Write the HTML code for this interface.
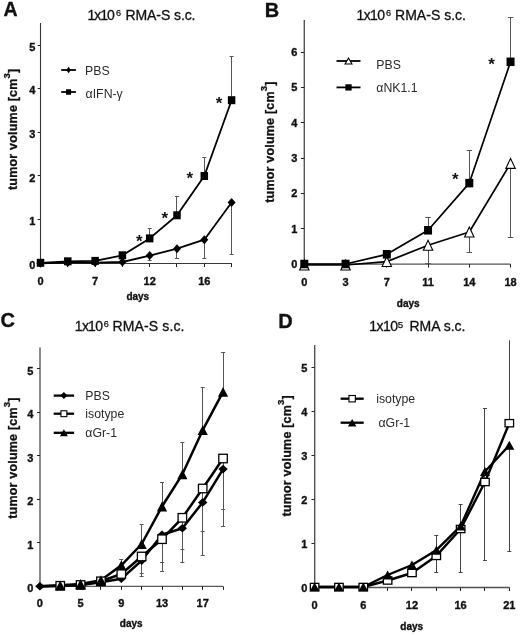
<!DOCTYPE html>
<html><head><meta charset="utf-8"><style>
html,body{margin:0;padding:0;background:#fff;}
svg{display:block;font-family:"Liberation Sans", sans-serif;will-change:transform;}
</style></head><body>
<svg width="520" height="635" viewBox="0 0 520 635">
<rect width="520" height="635" fill="#fff"/>
<text x="3.40" y="15.70" font-size="19.5" font-weight="bold" text-anchor="start" fill="#111"  stroke="#111" stroke-width="0.35">A</text>
<text x="87.55" y="19.70" font-size="14" fill="#111" stroke="#111" stroke-width="0.3" textLength="27.20" lengthAdjust="spacing">1x10</text>
<text x="116.10" y="15.90" font-size="9.2" fill="#111" stroke="#111" stroke-width="0.25">6</text>
<text x="125.40" y="19.70" font-size="14" fill="#111" stroke="#111" stroke-width="0.3" textLength="70.10" lengthAdjust="spacing">RMA-S s.c.</text>
<text transform="translate(17.00,129.30) rotate(-90)" x="0" y="0" font-size="12.5" letter-spacing="0.2" font-weight="bold" text-anchor="middle" fill="#111" stroke="#111" stroke-width="0.3">tumor volume [cm<tspan font-size="9.5" dy="-6.6">3</tspan><tspan dy="6.6">]</tspan></text>
<line x1="40.50" y1="23.00" x2="40.50" y2="264.00" stroke="#383838" stroke-width="1.1"/>
<line x1="40.50" y1="263.50" x2="232.00" y2="263.50" stroke="#383838" stroke-width="1.1"/>
<line x1="37.70" y1="263.50" x2="40.50" y2="263.50" stroke="#222" stroke-width="1"/>
<text x="35.40" y="268.90" font-size="11" font-weight="bold" text-anchor="end" fill="#111"  stroke="#111" stroke-width="0.35">0</text>
<line x1="37.70" y1="219.50" x2="40.50" y2="219.50" stroke="#222" stroke-width="1"/>
<text x="35.40" y="225.24" font-size="11" font-weight="bold" text-anchor="end" fill="#111"  stroke="#111" stroke-width="0.35">1</text>
<line x1="37.70" y1="175.50" x2="40.50" y2="175.50" stroke="#222" stroke-width="1"/>
<text x="35.40" y="181.58" font-size="11" font-weight="bold" text-anchor="end" fill="#111"  stroke="#111" stroke-width="0.35">2</text>
<line x1="37.70" y1="132.50" x2="40.50" y2="132.50" stroke="#222" stroke-width="1"/>
<text x="35.40" y="137.92" font-size="11" font-weight="bold" text-anchor="end" fill="#111"  stroke="#111" stroke-width="0.35">3</text>
<line x1="37.70" y1="88.50" x2="40.50" y2="88.50" stroke="#222" stroke-width="1"/>
<text x="35.40" y="94.26" font-size="11" font-weight="bold" text-anchor="end" fill="#111"  stroke="#111" stroke-width="0.35">4</text>
<line x1="37.70" y1="45.50" x2="40.50" y2="45.50" stroke="#222" stroke-width="1"/>
<text x="35.40" y="50.60" font-size="11" font-weight="bold" text-anchor="end" fill="#111"  stroke="#111" stroke-width="0.35">5</text>
<line x1="40.50" y1="263.50" x2="40.50" y2="267.00" stroke="#222" stroke-width="1"/>
<line x1="67.50" y1="263.50" x2="67.50" y2="267.00" stroke="#222" stroke-width="1"/>
<line x1="95.50" y1="263.50" x2="95.50" y2="267.00" stroke="#222" stroke-width="1"/>
<line x1="122.50" y1="263.50" x2="122.50" y2="267.00" stroke="#222" stroke-width="1"/>
<line x1="149.50" y1="263.50" x2="149.50" y2="267.00" stroke="#222" stroke-width="1"/>
<line x1="176.50" y1="263.50" x2="176.50" y2="267.00" stroke="#222" stroke-width="1"/>
<line x1="204.50" y1="263.50" x2="204.50" y2="267.00" stroke="#222" stroke-width="1"/>
<line x1="231.50" y1="263.50" x2="231.50" y2="267.00" stroke="#222" stroke-width="1"/>
<text x="40.50" y="285.00" font-size="11" font-weight="bold" text-anchor="middle" fill="#111"  stroke="#111" stroke-width="0.35">0</text>
<text x="95.10" y="285.00" font-size="11" font-weight="bold" text-anchor="middle" fill="#111"  stroke="#111" stroke-width="0.35">7</text>
<text x="149.70" y="285.00" font-size="11" font-weight="bold" text-anchor="middle" fill="#111"  stroke="#111" stroke-width="0.35">12</text>
<text x="204.30" y="285.00" font-size="11" font-weight="bold" text-anchor="middle" fill="#111"  stroke="#111" stroke-width="0.35">16</text>
<text x="137.80" y="300.00" font-size="10" font-weight="bold" text-anchor="middle" fill="#111"  stroke="#111" stroke-width="0.35">days</text>
<line x1="149.50" y1="238.40" x2="149.50" y2="228.50" stroke="#555" stroke-width="1"/>
<line x1="147.70" y1="228.50" x2="151.70" y2="228.50" stroke="#555" stroke-width="1"/>
<line x1="176.50" y1="215.30" x2="176.50" y2="196.10" stroke="#555" stroke-width="1"/>
<line x1="175.00" y1="196.50" x2="179.00" y2="196.50" stroke="#555" stroke-width="1"/>
<line x1="204.50" y1="176.00" x2="204.50" y2="157.30" stroke="#555" stroke-width="1"/>
<line x1="202.30" y1="157.50" x2="206.30" y2="157.50" stroke="#555" stroke-width="1"/>
<line x1="231.50" y1="100.20" x2="231.50" y2="56.30" stroke="#555" stroke-width="1"/>
<line x1="229.60" y1="56.50" x2="233.60" y2="56.50" stroke="#555" stroke-width="1"/>
<line x1="149.50" y1="255.60" x2="149.50" y2="260.00" stroke="#555" stroke-width="1"/>
<line x1="147.70" y1="260.50" x2="151.70" y2="260.50" stroke="#555" stroke-width="1"/>
<line x1="176.50" y1="248.70" x2="176.50" y2="259.00" stroke="#555" stroke-width="1"/>
<line x1="175.00" y1="258.50" x2="179.00" y2="258.50" stroke="#555" stroke-width="1"/>
<line x1="204.50" y1="239.70" x2="204.50" y2="259.00" stroke="#555" stroke-width="1"/>
<line x1="202.30" y1="258.50" x2="206.30" y2="258.50" stroke="#555" stroke-width="1"/>
<line x1="231.50" y1="202.50" x2="231.50" y2="254.40" stroke="#555" stroke-width="1"/>
<line x1="229.60" y1="254.50" x2="233.60" y2="254.50" stroke="#555" stroke-width="1"/>
<polyline points="40.50,263.30 67.80,262.60 95.10,262.60 122.40,262.00 149.70,255.60 177.00,248.70 204.30,239.70 231.60,202.50" fill="none" stroke="#000" stroke-width="1.8" stroke-linejoin="round"/>
<polyline points="40.50,262.80 67.80,261.30 95.10,260.90 122.40,255.30 149.70,238.40 177.00,215.30 204.30,176.00 231.60,100.20" fill="none" stroke="#000" stroke-width="1.8" stroke-linejoin="round"/>
<polygon points="40.50,258.80 44.50,263.30 40.50,267.80 36.50,263.30" fill="#000"/>
<polygon points="67.80,258.10 71.80,262.60 67.80,267.10 63.80,262.60" fill="#000"/>
<polygon points="95.10,258.10 99.10,262.60 95.10,267.10 91.10,262.60" fill="#000"/>
<polygon points="122.40,257.50 126.40,262.00 122.40,266.50 118.40,262.00" fill="#000"/>
<polygon points="149.70,251.10 153.70,255.60 149.70,260.10 145.70,255.60" fill="#000"/>
<polygon points="177.00,244.20 181.00,248.70 177.00,253.20 173.00,248.70" fill="#000"/>
<polygon points="204.30,235.20 208.30,239.70 204.30,244.20 200.30,239.70" fill="#000"/>
<polygon points="231.60,198.00 235.60,202.50 231.60,207.00 227.60,202.50" fill="#000"/>
<rect x="36.75" y="258.80" width="7.50" height="8.00" fill="#000"/>
<rect x="64.05" y="257.30" width="7.50" height="8.00" fill="#000"/>
<rect x="91.35" y="256.90" width="7.50" height="8.00" fill="#000"/>
<rect x="118.65" y="251.30" width="7.50" height="8.00" fill="#000"/>
<rect x="145.95" y="234.40" width="7.50" height="8.00" fill="#000"/>
<rect x="173.25" y="211.30" width="7.50" height="8.00" fill="#000"/>
<rect x="200.55" y="172.00" width="7.50" height="8.00" fill="#000"/>
<rect x="227.85" y="96.20" width="7.50" height="8.00" fill="#000"/>
<text x="139.20" y="247.00" font-size="17" font-weight="bold" text-anchor="middle" fill="#111" stroke="none">*</text>
<text x="164.80" y="224.20" font-size="17" font-weight="bold" text-anchor="middle" fill="#111" stroke="none">*</text>
<text x="189.90" y="183.70" font-size="17" font-weight="bold" text-anchor="middle" fill="#111" stroke="none">*</text>
<text x="219.00" y="109.10" font-size="17" font-weight="bold" text-anchor="middle" fill="#111" stroke="none">*</text>
<line x1="61.20" y1="70.00" x2="75.90" y2="70.00" stroke="#000" stroke-width="1.8"/>
<polygon points="68.55,66.80 70.85,70.00 68.55,73.20 66.25,70.00" fill="#000"/>
<text x="85.00" y="74.60" font-size="12.3" font-weight="normal" text-anchor="start" fill="#2a2a2a" >PBS</text>
<line x1="61.20" y1="92.00" x2="75.90" y2="92.00" stroke="#000" stroke-width="1.8"/>
<rect x="66.05" y="89.25" width="5.00" height="5.50" fill="#000"/>
<text x="85.60" y="97.60" font-size="12.3" font-weight="normal" text-anchor="start" fill="#2a2a2a" >αIFN-γ</text>
<text x="264.80" y="17.00" font-size="20" font-weight="bold" text-anchor="start" fill="#111"  stroke="#111" stroke-width="0.35">B</text>
<text x="356.55" y="19.90" font-size="14" fill="#111" stroke="#111" stroke-width="0.3" textLength="28.40" lengthAdjust="spacing">1x10</text>
<text x="386.10" y="16.10" font-size="9.2" fill="#111" stroke="#111" stroke-width="0.25">6</text>
<text x="395.00" y="19.90" font-size="14" fill="#111" stroke="#111" stroke-width="0.3" textLength="71.00" lengthAdjust="spacing">RMA-S s.c.</text>
<text transform="translate(273.90,142.10) rotate(-90)" x="0" y="0" font-size="12.5" letter-spacing="0.2" font-weight="bold" text-anchor="middle" fill="#111" stroke="#111" stroke-width="0.3">tumor volume [cm<tspan font-size="9.5" dy="-6.6">3</tspan><tspan dy="6.6">]</tspan></text>
<line x1="304.30" y1="20.00" x2="304.30" y2="264.60" stroke="#555" stroke-width="1.4"/>
<line x1="304.30" y1="264.10" x2="510.50" y2="264.10" stroke="#555" stroke-width="1.4"/>
<line x1="300.90" y1="264.50" x2="304.30" y2="264.50" stroke="#222" stroke-width="1"/>
<text x="297.40" y="268.10" font-size="11" font-weight="bold" text-anchor="end" fill="#111"  stroke="#111" stroke-width="0.35">0</text>
<line x1="300.90" y1="228.50" x2="304.30" y2="228.50" stroke="#222" stroke-width="1"/>
<text x="297.40" y="232.75" font-size="11" font-weight="bold" text-anchor="end" fill="#111"  stroke="#111" stroke-width="0.35">1</text>
<line x1="300.90" y1="193.50" x2="304.30" y2="193.50" stroke="#222" stroke-width="1"/>
<text x="297.40" y="197.40" font-size="11" font-weight="bold" text-anchor="end" fill="#111"  stroke="#111" stroke-width="0.35">2</text>
<line x1="300.90" y1="158.50" x2="304.30" y2="158.50" stroke="#222" stroke-width="1"/>
<text x="297.40" y="162.05" font-size="11" font-weight="bold" text-anchor="end" fill="#111"  stroke="#111" stroke-width="0.35">3</text>
<line x1="300.90" y1="122.50" x2="304.30" y2="122.50" stroke="#222" stroke-width="1"/>
<text x="297.40" y="126.70" font-size="11" font-weight="bold" text-anchor="end" fill="#111"  stroke="#111" stroke-width="0.35">4</text>
<line x1="300.90" y1="87.50" x2="304.30" y2="87.50" stroke="#222" stroke-width="1"/>
<text x="297.40" y="91.35" font-size="11" font-weight="bold" text-anchor="end" fill="#111"  stroke="#111" stroke-width="0.35">5</text>
<line x1="300.90" y1="52.50" x2="304.30" y2="52.50" stroke="#222" stroke-width="1"/>
<text x="297.40" y="56.00" font-size="11" font-weight="bold" text-anchor="end" fill="#111"  stroke="#111" stroke-width="0.35">6</text>
<line x1="304.50" y1="264.10" x2="304.50" y2="267.60" stroke="#222" stroke-width="1"/>
<line x1="345.50" y1="264.10" x2="345.50" y2="267.60" stroke="#222" stroke-width="1"/>
<line x1="386.50" y1="264.10" x2="386.50" y2="267.60" stroke="#222" stroke-width="1"/>
<line x1="428.50" y1="264.10" x2="428.50" y2="267.60" stroke="#222" stroke-width="1"/>
<line x1="469.50" y1="264.10" x2="469.50" y2="267.60" stroke="#222" stroke-width="1"/>
<line x1="510.50" y1="264.10" x2="510.50" y2="267.60" stroke="#222" stroke-width="1"/>
<text x="304.30" y="286.00" font-size="11" font-weight="bold" text-anchor="middle" fill="#111"  stroke="#111" stroke-width="0.35">0</text>
<text x="345.55" y="286.00" font-size="11" font-weight="bold" text-anchor="middle" fill="#111"  stroke="#111" stroke-width="0.35">3</text>
<text x="386.80" y="286.00" font-size="11" font-weight="bold" text-anchor="middle" fill="#111"  stroke="#111" stroke-width="0.35">7</text>
<text x="428.05" y="286.00" font-size="11" font-weight="bold" text-anchor="middle" fill="#111"  stroke="#111" stroke-width="0.35">11</text>
<text x="469.30" y="286.00" font-size="11" font-weight="bold" text-anchor="middle" fill="#111"  stroke="#111" stroke-width="0.35">14</text>
<text x="510.55" y="286.00" font-size="11" font-weight="bold" text-anchor="middle" fill="#111"  stroke="#111" stroke-width="0.35">18</text>
<text x="408.20" y="306.80" font-size="10" font-weight="bold" text-anchor="middle" fill="#111"  stroke="#111" stroke-width="0.35">days</text>
<line x1="386.50" y1="254.30" x2="386.50" y2="250.00" stroke="#555" stroke-width="1"/>
<line x1="384.05" y1="250.50" x2="389.55" y2="250.50" stroke="#555" stroke-width="1"/>
<line x1="428.50" y1="230.30" x2="428.50" y2="217.70" stroke="#555" stroke-width="1"/>
<line x1="425.30" y1="217.50" x2="430.80" y2="217.50" stroke="#555" stroke-width="1"/>
<line x1="469.50" y1="183.10" x2="469.50" y2="150.80" stroke="#555" stroke-width="1"/>
<line x1="466.55" y1="150.50" x2="472.05" y2="150.50" stroke="#555" stroke-width="1"/>
<line x1="510.50" y1="61.80" x2="510.50" y2="17.30" stroke="#555" stroke-width="1"/>
<line x1="507.80" y1="17.50" x2="513.30" y2="17.50" stroke="#555" stroke-width="1"/>
<line x1="428.50" y1="245.30" x2="428.50" y2="263.80" stroke="#555" stroke-width="1"/>
<line x1="425.30" y1="263.50" x2="430.80" y2="263.50" stroke="#555" stroke-width="1"/>
<line x1="469.50" y1="232.00" x2="469.50" y2="252.50" stroke="#555" stroke-width="1"/>
<line x1="466.55" y1="252.50" x2="472.05" y2="252.50" stroke="#555" stroke-width="1"/>
<line x1="510.50" y1="163.40" x2="510.50" y2="237.20" stroke="#555" stroke-width="1"/>
<line x1="507.80" y1="237.50" x2="513.30" y2="237.50" stroke="#555" stroke-width="1"/>
<polyline points="304.30,265.00 345.55,265.00 386.80,261.60 428.05,245.30 469.30,232.00 510.55,163.40" fill="none" stroke="#000" stroke-width="1.7" stroke-linejoin="round"/>
<polyline points="304.30,264.00 345.55,264.00 386.80,254.30 428.05,230.30 469.30,183.10 510.55,61.80" fill="none" stroke="#000" stroke-width="1.7" stroke-linejoin="round"/>
<polygon points="304.30,260.05 309.00,269.95 299.60,269.95" fill="#fff" stroke="#000" stroke-width="1.1" stroke-linejoin="miter"/>
<polygon points="345.55,260.05 350.25,269.95 340.85,269.95" fill="#fff" stroke="#000" stroke-width="1.1" stroke-linejoin="miter"/>
<polygon points="386.80,256.65 391.50,266.55 382.10,266.55" fill="#fff" stroke="#000" stroke-width="1.1" stroke-linejoin="miter"/>
<polygon points="428.05,240.35 432.75,250.25 423.35,250.25" fill="#fff" stroke="#000" stroke-width="1.1" stroke-linejoin="miter"/>
<polygon points="469.30,227.05 474.00,236.95 464.60,236.95" fill="#fff" stroke="#000" stroke-width="1.1" stroke-linejoin="miter"/>
<polygon points="510.55,158.45 515.25,168.35 505.85,168.35" fill="#fff" stroke="#000" stroke-width="1.1" stroke-linejoin="miter"/>
<rect x="300.30" y="259.75" width="8.00" height="8.50" fill="#000"/>
<rect x="341.55" y="259.75" width="8.00" height="8.50" fill="#000"/>
<rect x="382.80" y="250.05" width="8.00" height="8.50" fill="#000"/>
<rect x="424.05" y="226.05" width="8.00" height="8.50" fill="#000"/>
<rect x="465.30" y="178.85" width="8.00" height="8.50" fill="#000"/>
<rect x="506.55" y="57.55" width="8.00" height="8.50" fill="#000"/>
<text x="455.20" y="184.70" font-size="17" font-weight="bold" text-anchor="middle" fill="#111" stroke="none">*</text>
<text x="491.50" y="70.20" font-size="17" font-weight="bold" text-anchor="middle" fill="#111" stroke="none">*</text>
<line x1="336.50" y1="61.00" x2="360.50" y2="61.00" stroke="#000" stroke-width="1.8"/>
<polygon points="348.50,58.05 351.95,63.95 345.05,63.95" fill="#fff" stroke="#000" stroke-width="1.1" stroke-linejoin="miter"/>
<text x="376.30" y="69.00" font-size="12.3" font-weight="normal" text-anchor="start" fill="#2a2a2a" >PBS</text>
<line x1="336.50" y1="87.40" x2="360.50" y2="87.40" stroke="#000" stroke-width="1.8"/>
<rect x="345.35" y="84.25" width="6.30" height="6.30" fill="#000"/>
<text x="376.30" y="92.40" font-size="12.3" font-weight="normal" text-anchor="start" fill="#2a2a2a" >αNK1.1</text>
<text x="0.60" y="327.20" font-size="20" font-weight="bold" text-anchor="start" fill="#111"  stroke="#111" stroke-width="0.35">C</text>
<text x="74.85" y="331.00" font-size="14" fill="#111" stroke="#111" stroke-width="0.3" textLength="28.10" lengthAdjust="spacing">1x10</text>
<text x="103.80" y="327.20" font-size="9.2" fill="#111" stroke="#111" stroke-width="0.25">6</text>
<text x="112.50" y="331.00" font-size="14" fill="#111" stroke="#111" stroke-width="0.3" textLength="72.00" lengthAdjust="spacing">RMA-S s.c.</text>
<text transform="translate(16.60,458.10) rotate(-90)" x="0" y="0" font-size="12.5" letter-spacing="0.2" font-weight="bold" text-anchor="middle" fill="#111" stroke="#111" stroke-width="0.3">tumor volume [cm<tspan font-size="9.5" dy="-6.6">3</tspan><tspan dy="6.6">]</tspan></text>
<line x1="40.00" y1="347.50" x2="40.00" y2="586.90" stroke="#5a5a5a" stroke-width="1.4"/>
<line x1="40.00" y1="586.40" x2="223.00" y2="586.40" stroke="#5a5a5a" stroke-width="1.4"/>
<line x1="37.00" y1="586.50" x2="40.00" y2="586.50" stroke="#222" stroke-width="1"/>
<text x="33.30" y="592.30" font-size="11" font-weight="bold" text-anchor="end" fill="#111"  stroke="#111" stroke-width="0.35">0</text>
<line x1="37.00" y1="542.50" x2="40.00" y2="542.50" stroke="#222" stroke-width="1"/>
<text x="33.30" y="548.84" font-size="11" font-weight="bold" text-anchor="end" fill="#111"  stroke="#111" stroke-width="0.35">1</text>
<line x1="37.00" y1="499.50" x2="40.00" y2="499.50" stroke="#222" stroke-width="1"/>
<text x="33.30" y="505.38" font-size="11" font-weight="bold" text-anchor="end" fill="#111"  stroke="#111" stroke-width="0.35">2</text>
<line x1="37.00" y1="455.50" x2="40.00" y2="455.50" stroke="#222" stroke-width="1"/>
<text x="33.30" y="461.92" font-size="11" font-weight="bold" text-anchor="end" fill="#111"  stroke="#111" stroke-width="0.35">3</text>
<line x1="37.00" y1="412.50" x2="40.00" y2="412.50" stroke="#222" stroke-width="1"/>
<text x="33.30" y="418.46" font-size="11" font-weight="bold" text-anchor="end" fill="#111"  stroke="#111" stroke-width="0.35">4</text>
<line x1="37.00" y1="368.50" x2="40.00" y2="368.50" stroke="#222" stroke-width="1"/>
<text x="33.30" y="375.00" font-size="11" font-weight="bold" text-anchor="end" fill="#111"  stroke="#111" stroke-width="0.35">5</text>
<line x1="39.50" y1="586.40" x2="39.50" y2="589.90" stroke="#222" stroke-width="1"/>
<line x1="60.50" y1="586.40" x2="60.50" y2="589.90" stroke="#222" stroke-width="1"/>
<line x1="80.50" y1="586.40" x2="80.50" y2="589.90" stroke="#222" stroke-width="1"/>
<line x1="100.50" y1="586.40" x2="100.50" y2="589.90" stroke="#222" stroke-width="1"/>
<line x1="121.50" y1="586.40" x2="121.50" y2="589.90" stroke="#222" stroke-width="1"/>
<line x1="141.50" y1="586.40" x2="141.50" y2="589.90" stroke="#222" stroke-width="1"/>
<line x1="162.50" y1="586.40" x2="162.50" y2="589.90" stroke="#222" stroke-width="1"/>
<line x1="182.50" y1="586.40" x2="182.50" y2="589.90" stroke="#222" stroke-width="1"/>
<line x1="202.50" y1="586.40" x2="202.50" y2="589.90" stroke="#222" stroke-width="1"/>
<line x1="223.50" y1="586.40" x2="223.50" y2="589.90" stroke="#222" stroke-width="1"/>
<text x="39.90" y="607.30" font-size="11" font-weight="bold" text-anchor="middle" fill="#111"  stroke="#111" stroke-width="0.35">0</text>
<text x="80.60" y="607.30" font-size="11" font-weight="bold" text-anchor="middle" fill="#111"  stroke="#111" stroke-width="0.35">5</text>
<text x="121.30" y="607.30" font-size="11" font-weight="bold" text-anchor="middle" fill="#111"  stroke="#111" stroke-width="0.35">9</text>
<text x="162.00" y="607.30" font-size="11" font-weight="bold" text-anchor="middle" fill="#111"  stroke="#111" stroke-width="0.35">13</text>
<text x="202.70" y="607.30" font-size="11" font-weight="bold" text-anchor="middle" fill="#111"  stroke="#111" stroke-width="0.35">17</text>
<text x="131.20" y="626.60" font-size="10" font-weight="bold" text-anchor="middle" fill="#111"  stroke="#111" stroke-width="0.35">days</text>
<line x1="121.50" y1="565.30" x2="121.50" y2="559.80" stroke="#555" stroke-width="1"/>
<line x1="119.30" y1="559.50" x2="123.30" y2="559.50" stroke="#555" stroke-width="1"/>
<line x1="141.50" y1="544.00" x2="141.50" y2="524.80" stroke="#555" stroke-width="1"/>
<line x1="139.65" y1="524.50" x2="143.65" y2="524.50" stroke="#555" stroke-width="1"/>
<line x1="162.50" y1="506.50" x2="162.50" y2="482.40" stroke="#555" stroke-width="1"/>
<line x1="160.00" y1="482.50" x2="164.00" y2="482.50" stroke="#555" stroke-width="1"/>
<line x1="182.50" y1="474.30" x2="182.50" y2="442.90" stroke="#555" stroke-width="1"/>
<line x1="180.35" y1="442.50" x2="184.35" y2="442.50" stroke="#555" stroke-width="1"/>
<line x1="202.50" y1="430.20" x2="202.50" y2="387.50" stroke="#555" stroke-width="1"/>
<line x1="200.70" y1="387.50" x2="204.70" y2="387.50" stroke="#555" stroke-width="1"/>
<line x1="223.50" y1="391.90" x2="223.50" y2="352.70" stroke="#555" stroke-width="1"/>
<line x1="221.05" y1="352.50" x2="225.05" y2="352.50" stroke="#555" stroke-width="1"/>
<line x1="141.50" y1="556.50" x2="141.50" y2="573.70" stroke="#555" stroke-width="1"/>
<line x1="139.65" y1="573.50" x2="143.65" y2="573.50" stroke="#555" stroke-width="1"/>
<line x1="141.50" y1="560.60" x2="141.50" y2="576.40" stroke="#555" stroke-width="1"/>
<line x1="139.65" y1="576.50" x2="143.65" y2="576.50" stroke="#555" stroke-width="1"/>
<line x1="162.50" y1="539.20" x2="162.50" y2="562.80" stroke="#555" stroke-width="1"/>
<line x1="160.00" y1="562.50" x2="164.00" y2="562.50" stroke="#555" stroke-width="1"/>
<line x1="162.50" y1="534.80" x2="162.50" y2="571.60" stroke="#555" stroke-width="1"/>
<line x1="160.00" y1="571.50" x2="164.00" y2="571.50" stroke="#555" stroke-width="1"/>
<line x1="182.50" y1="517.80" x2="182.50" y2="549.60" stroke="#555" stroke-width="1"/>
<line x1="180.35" y1="549.50" x2="184.35" y2="549.50" stroke="#555" stroke-width="1"/>
<line x1="182.50" y1="528.20" x2="182.50" y2="562.80" stroke="#555" stroke-width="1"/>
<line x1="180.35" y1="562.50" x2="184.35" y2="562.50" stroke="#555" stroke-width="1"/>
<line x1="202.50" y1="488.50" x2="202.50" y2="531.50" stroke="#555" stroke-width="1"/>
<line x1="200.70" y1="531.50" x2="204.70" y2="531.50" stroke="#555" stroke-width="1"/>
<line x1="202.50" y1="502.40" x2="202.50" y2="555.30" stroke="#555" stroke-width="1"/>
<line x1="200.70" y1="555.50" x2="204.70" y2="555.50" stroke="#555" stroke-width="1"/>
<line x1="223.50" y1="458.50" x2="223.50" y2="509.50" stroke="#555" stroke-width="1"/>
<line x1="221.05" y1="509.50" x2="225.05" y2="509.50" stroke="#555" stroke-width="1"/>
<line x1="223.50" y1="469.10" x2="223.50" y2="526.00" stroke="#555" stroke-width="1"/>
<line x1="221.05" y1="526.50" x2="225.05" y2="526.50" stroke="#555" stroke-width="1"/>
<polyline points="39.90,586.20 60.25,586.00 80.60,585.00 100.95,582.20 121.30,578.70 141.65,560.60 162.00,534.80 182.35,528.20 202.70,502.40 223.05,469.10" fill="none" stroke="#000" stroke-width="2.5" stroke-linejoin="round"/>
<polyline points="39.90,586.20 60.25,585.80 80.60,585.00 100.95,581.30 121.30,574.00 141.65,556.50 162.00,539.20 182.35,517.80 202.70,488.50 223.05,458.50" fill="none" stroke="#000" stroke-width="2.5" stroke-linejoin="round"/>
<polyline points="39.90,586.20 60.25,585.30 80.60,584.00 100.95,580.20 121.30,565.30 141.65,544.00 162.00,506.50 182.35,474.30 202.70,430.20 223.05,391.90" fill="none" stroke="#000" stroke-width="2.5" stroke-linejoin="round"/>
<polygon points="39.90,581.90 44.60,586.20 39.90,590.50 35.20,586.20" fill="#000"/>
<polygon points="60.25,581.70 64.95,586.00 60.25,590.30 55.55,586.00" fill="#000"/>
<polygon points="80.60,580.70 85.30,585.00 80.60,589.30 75.90,585.00" fill="#000"/>
<polygon points="100.95,577.90 105.65,582.20 100.95,586.50 96.25,582.20" fill="#000"/>
<polygon points="121.30,574.40 126.00,578.70 121.30,583.00 116.60,578.70" fill="#000"/>
<polygon points="141.65,556.30 146.35,560.60 141.65,564.90 136.95,560.60" fill="#000"/>
<polygon points="162.00,530.50 166.70,534.80 162.00,539.10 157.30,534.80" fill="#000"/>
<polygon points="182.35,523.90 187.05,528.20 182.35,532.50 177.65,528.20" fill="#000"/>
<polygon points="202.70,498.10 207.40,502.40 202.70,506.70 198.00,502.40" fill="#000"/>
<polygon points="223.05,464.80 227.75,469.10 223.05,473.40 218.35,469.10" fill="#000"/>
<rect x="56.00" y="581.55" width="8.50" height="8.50" fill="#fff" stroke="#000" stroke-width="1.3"/>
<rect x="76.35" y="580.75" width="8.50" height="8.50" fill="#fff" stroke="#000" stroke-width="1.3"/>
<rect x="96.70" y="577.05" width="8.50" height="8.50" fill="#fff" stroke="#000" stroke-width="1.3"/>
<rect x="117.05" y="569.75" width="8.50" height="8.50" fill="#fff" stroke="#000" stroke-width="1.3"/>
<rect x="137.40" y="552.25" width="8.50" height="8.50" fill="#fff" stroke="#000" stroke-width="1.3"/>
<rect x="157.75" y="534.95" width="8.50" height="8.50" fill="#fff" stroke="#000" stroke-width="1.3"/>
<rect x="178.10" y="513.55" width="8.50" height="8.50" fill="#fff" stroke="#000" stroke-width="1.3"/>
<rect x="198.45" y="484.25" width="8.50" height="8.50" fill="#fff" stroke="#000" stroke-width="1.3"/>
<rect x="218.80" y="454.25" width="8.50" height="8.50" fill="#fff" stroke="#000" stroke-width="1.3"/>
<polygon points="60.25,580.40 65.35,590.20 55.15,590.20" fill="#000"/>
<polygon points="80.60,579.10 85.70,588.90 75.50,588.90" fill="#000"/>
<polygon points="100.95,575.30 106.05,585.10 95.85,585.10" fill="#000"/>
<polygon points="121.30,560.40 126.40,570.20 116.20,570.20" fill="#000"/>
<polygon points="141.65,539.10 146.75,548.90 136.55,548.90" fill="#000"/>
<polygon points="162.00,501.60 167.10,511.40 156.90,511.40" fill="#000"/>
<polygon points="182.35,469.40 187.45,479.20 177.25,479.20" fill="#000"/>
<polygon points="202.70,425.30 207.80,435.10 197.60,435.10" fill="#000"/>
<polygon points="223.05,387.00 228.15,396.80 217.95,396.80" fill="#000"/>
<line x1="53.70" y1="395.60" x2="74.10" y2="395.60" stroke="#000" stroke-width="2.3"/>
<polygon points="63.90,392.10 67.40,395.60 63.90,399.10 60.40,395.60" fill="#000"/>
<text x="85.30" y="400.20" font-size="12.3" font-weight="normal" text-anchor="start" fill="#2a2a2a" >PBS</text>
<line x1="53.70" y1="413.70" x2="74.10" y2="413.70" stroke="#000" stroke-width="2.3"/>
<rect x="60.95" y="410.75" width="5.90" height="5.90" fill="#fff" stroke="#000" stroke-width="1.1"/>
<text x="85.30" y="418.30" font-size="12.3" font-weight="normal" text-anchor="start" fill="#2a2a2a" >isotype</text>
<line x1="53.70" y1="432.80" x2="74.10" y2="432.80" stroke="#000" stroke-width="2.3"/>
<polygon points="63.90,429.30 67.90,436.30 59.90,436.30" fill="#000"/>
<text x="85.30" y="437.40" font-size="12.3" font-weight="normal" text-anchor="start" fill="#2a2a2a" >αGr-1</text>
<text x="278.20" y="327.50" font-size="20" font-weight="bold" text-anchor="start" fill="#111"  stroke="#111" stroke-width="0.35">D</text>
<text x="369.25" y="331.20" font-size="14" fill="#111" stroke="#111" stroke-width="0.3" textLength="28.70" lengthAdjust="spacing">1x10</text>
<text x="397.80" y="327.60" font-size="9.8" fill="#111" stroke="#111" stroke-width="0.25">5</text>
<text x="409.50" y="331.20" font-size="14" fill="#111" stroke="#111" stroke-width="0.3" textLength="55.90" lengthAdjust="spacing">RMA s.c.</text>
<text transform="translate(290.50,455.80) rotate(-90)" x="0" y="0" font-size="12.5" letter-spacing="0.2" font-weight="bold" text-anchor="middle" fill="#111" stroke="#111" stroke-width="0.3">tumor volume [cm<tspan font-size="9.5" dy="-6.6">3</tspan><tspan dy="6.6">]</tspan></text>
<line x1="314.70" y1="345.00" x2="314.70" y2="588.00" stroke="#505050" stroke-width="1.4"/>
<line x1="314.70" y1="587.50" x2="509.50" y2="587.50" stroke="#505050" stroke-width="1.4"/>
<line x1="311.50" y1="587.50" x2="314.70" y2="587.50" stroke="#222" stroke-width="1"/>
<text x="307.30" y="591.90" font-size="11" font-weight="bold" text-anchor="end" fill="#111"  stroke="#111" stroke-width="0.35">0</text>
<line x1="311.50" y1="543.50" x2="314.70" y2="543.50" stroke="#222" stroke-width="1"/>
<text x="307.30" y="547.90" font-size="11" font-weight="bold" text-anchor="end" fill="#111"  stroke="#111" stroke-width="0.35">1</text>
<line x1="311.50" y1="499.50" x2="314.70" y2="499.50" stroke="#222" stroke-width="1"/>
<text x="307.30" y="503.90" font-size="11" font-weight="bold" text-anchor="end" fill="#111"  stroke="#111" stroke-width="0.35">2</text>
<line x1="311.50" y1="455.50" x2="314.70" y2="455.50" stroke="#222" stroke-width="1"/>
<text x="307.30" y="459.90" font-size="11" font-weight="bold" text-anchor="end" fill="#111"  stroke="#111" stroke-width="0.35">3</text>
<line x1="311.50" y1="411.50" x2="314.70" y2="411.50" stroke="#222" stroke-width="1"/>
<text x="307.30" y="415.90" font-size="11" font-weight="bold" text-anchor="end" fill="#111"  stroke="#111" stroke-width="0.35">4</text>
<line x1="311.50" y1="367.50" x2="314.70" y2="367.50" stroke="#222" stroke-width="1"/>
<text x="307.30" y="371.90" font-size="11" font-weight="bold" text-anchor="end" fill="#111"  stroke="#111" stroke-width="0.35">5</text>
<line x1="314.50" y1="587.50" x2="314.50" y2="591.00" stroke="#222" stroke-width="1"/>
<line x1="338.50" y1="587.50" x2="338.50" y2="591.00" stroke="#222" stroke-width="1"/>
<line x1="363.50" y1="587.50" x2="363.50" y2="591.00" stroke="#222" stroke-width="1"/>
<line x1="387.50" y1="587.50" x2="387.50" y2="591.00" stroke="#222" stroke-width="1"/>
<line x1="411.50" y1="587.50" x2="411.50" y2="591.00" stroke="#222" stroke-width="1"/>
<line x1="436.50" y1="587.50" x2="436.50" y2="591.00" stroke="#222" stroke-width="1"/>
<line x1="460.50" y1="587.50" x2="460.50" y2="591.00" stroke="#222" stroke-width="1"/>
<line x1="484.50" y1="587.50" x2="484.50" y2="591.00" stroke="#222" stroke-width="1"/>
<line x1="509.50" y1="587.50" x2="509.50" y2="591.00" stroke="#222" stroke-width="1"/>
<text x="314.60" y="609.40" font-size="11" font-weight="bold" text-anchor="middle" fill="#111"  stroke="#111" stroke-width="0.35">0</text>
<text x="363.28" y="609.40" font-size="11" font-weight="bold" text-anchor="middle" fill="#111"  stroke="#111" stroke-width="0.35">6</text>
<text x="411.96" y="609.40" font-size="11" font-weight="bold" text-anchor="middle" fill="#111"  stroke="#111" stroke-width="0.35">12</text>
<text x="460.64" y="609.40" font-size="11" font-weight="bold" text-anchor="middle" fill="#111"  stroke="#111" stroke-width="0.35">16</text>
<text x="509.32" y="609.40" font-size="11" font-weight="bold" text-anchor="middle" fill="#111"  stroke="#111" stroke-width="0.35">21</text>
<text x="411.70" y="629.50" font-size="10" font-weight="bold" text-anchor="middle" fill="#111"  stroke="#111" stroke-width="0.35">days</text>
<line x1="436.50" y1="555.90" x2="436.50" y2="535.50" stroke="#444" stroke-width="1"/>
<line x1="434.30" y1="535.50" x2="438.30" y2="535.50" stroke="#444" stroke-width="1"/>
<line x1="436.50" y1="550.20" x2="436.50" y2="572.80" stroke="#444" stroke-width="1"/>
<line x1="434.30" y1="572.50" x2="438.30" y2="572.50" stroke="#444" stroke-width="1"/>
<line x1="460.50" y1="529.00" x2="460.50" y2="504.00" stroke="#444" stroke-width="1"/>
<line x1="458.64" y1="504.50" x2="462.64" y2="504.50" stroke="#444" stroke-width="1"/>
<line x1="460.50" y1="526.10" x2="460.50" y2="572.30" stroke="#444" stroke-width="1"/>
<line x1="458.64" y1="572.50" x2="462.64" y2="572.50" stroke="#444" stroke-width="1"/>
<line x1="484.50" y1="482.00" x2="484.50" y2="409.00" stroke="#444" stroke-width="1"/>
<line x1="482.98" y1="408.50" x2="486.98" y2="408.50" stroke="#444" stroke-width="1"/>
<line x1="484.50" y1="471.50" x2="484.50" y2="560.70" stroke="#444" stroke-width="1"/>
<line x1="482.98" y1="560.50" x2="486.98" y2="560.50" stroke="#444" stroke-width="1"/>
<line x1="509.50" y1="423.20" x2="509.50" y2="340.30" stroke="#444" stroke-width="1"/>
<line x1="509.50" y1="445.30" x2="509.50" y2="551.60" stroke="#444" stroke-width="1"/>
<line x1="507.32" y1="551.50" x2="511.32" y2="551.50" stroke="#444" stroke-width="1"/>
<polyline points="314.60,587.00 338.94,587.00 363.28,587.00 387.62,580.50 411.96,573.00 436.30,555.90 460.64,529.00 484.98,482.00 509.32,423.20" fill="none" stroke="#000" stroke-width="2.4" stroke-linejoin="round"/>
<polyline points="314.60,587.00 338.94,587.00 363.28,587.00 387.62,575.00 411.96,565.00 436.30,550.20 460.64,526.10 484.98,471.50 509.32,445.30" fill="none" stroke="#000" stroke-width="2.4" stroke-linejoin="round"/>
<rect x="310.35" y="583.35" width="8.50" height="7.30" fill="#fff" stroke="#000" stroke-width="1.3"/>
<rect x="334.69" y="583.35" width="8.50" height="7.30" fill="#fff" stroke="#000" stroke-width="1.3"/>
<rect x="359.03" y="583.35" width="8.50" height="7.30" fill="#fff" stroke="#000" stroke-width="1.3"/>
<rect x="383.37" y="576.85" width="8.50" height="7.30" fill="#fff" stroke="#000" stroke-width="1.3"/>
<rect x="407.71" y="569.35" width="8.50" height="7.30" fill="#fff" stroke="#000" stroke-width="1.3"/>
<rect x="432.05" y="552.25" width="8.50" height="7.30" fill="#fff" stroke="#000" stroke-width="1.3"/>
<rect x="456.39" y="525.35" width="8.50" height="7.30" fill="#fff" stroke="#000" stroke-width="1.3"/>
<rect x="480.73" y="478.35" width="8.50" height="7.30" fill="#fff" stroke="#000" stroke-width="1.3"/>
<rect x="505.07" y="419.55" width="8.50" height="7.30" fill="#fff" stroke="#000" stroke-width="1.3"/>
<polygon points="314.60,582.50 319.60,591.50 309.60,591.50" fill="#000"/>
<polygon points="338.94,582.50 343.94,591.50 333.94,591.50" fill="#000"/>
<polygon points="363.28,582.50 368.28,591.50 358.28,591.50" fill="#000"/>
<polygon points="387.62,570.50 392.62,579.50 382.62,579.50" fill="#000"/>
<polygon points="411.96,560.50 416.96,569.50 406.96,569.50" fill="#000"/>
<polygon points="436.30,545.70 441.30,554.70 431.30,554.70" fill="#000"/>
<polygon points="460.64,521.60 465.64,530.60 455.64,530.60" fill="#000"/>
<polygon points="484.98,467.00 489.98,476.00 479.98,476.00" fill="#000"/>
<polygon points="509.32,440.80 514.32,449.80 504.32,449.80" fill="#000"/>
<line x1="340.60" y1="398.70" x2="363.70" y2="398.70" stroke="#000" stroke-width="2.3"/>
<rect x="348.95" y="395.50" width="6.40" height="6.40" fill="#fff" stroke="#000" stroke-width="1.1"/>
<text x="376.20" y="403.30" font-size="12.3" font-weight="normal" text-anchor="start" fill="#2a2a2a" >isotype</text>
<line x1="340.60" y1="422.70" x2="363.70" y2="422.70" stroke="#000" stroke-width="2.3"/>
<polygon points="352.15,418.95 356.40,426.45 347.90,426.45" fill="#000"/>
<text x="378.50" y="427.30" font-size="12.3" font-weight="normal" text-anchor="start" fill="#2a2a2a" >αGr-1</text>
</svg>
</body></html>
